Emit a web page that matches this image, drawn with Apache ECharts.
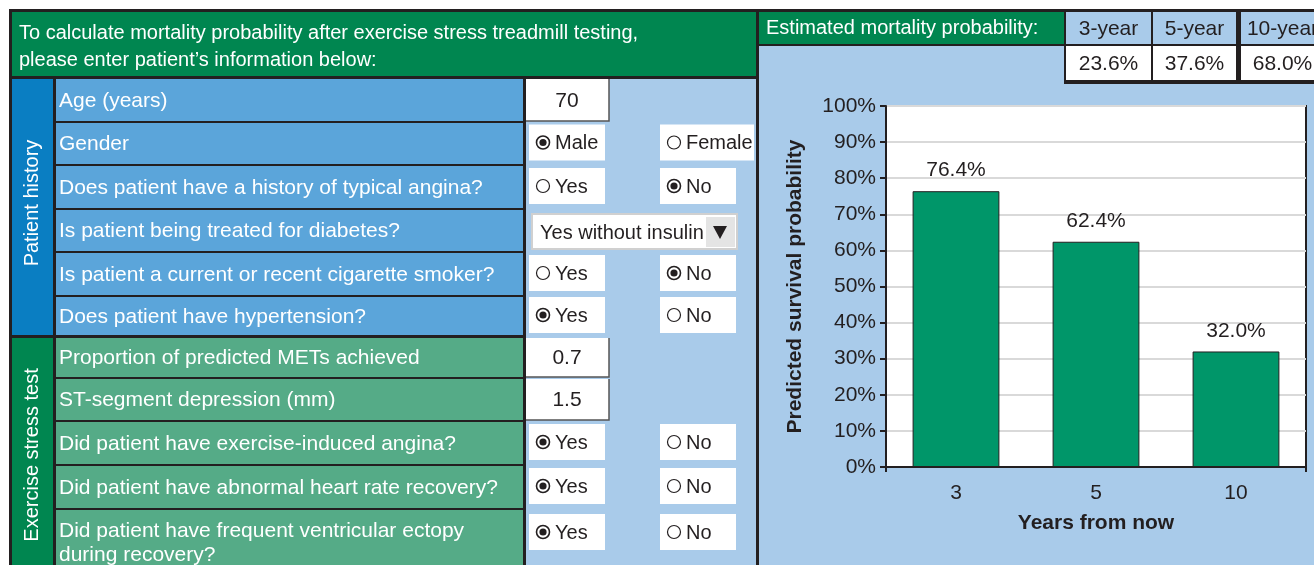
<!DOCTYPE html>
<html>
<head>
<meta charset="utf-8">
<script src="https://cdn.jsdelivr.net/npm/echarts/dist/echarts.min.js"></script>
<style>
html,body{margin:0;padding:0;background:#fff;}
#chart{width:1314px;height:565px;}
</style>
</head>
<body>
<div id="chart"></div>
<script>
// ---------- data ----------
const headerLines = ['To calculate mortality probability after exercise stress treadmill testing,', 'please enter patient\u2019s information below:'];
const sectionTitles = ['Patient history', 'Exercise stress test'];
const historyQuestions = ['Age (years)', 'Gender', 'Does patient have a history of typical angina?', 'Is patient being treated for diabetes?', 'Is patient a current or recent cigarette smoker?', 'Does patient have hypertension?'];
const exerciseQuestions = ['Proportion of predicted METs achieved', 'ST-segment depression (mm)', 'Did patient have exercise-induced angina?', 'Did patient have abnormal heart rate recovery?', 'Did patient have frequent ventricular ectopy\nduring recovery?'];
const answerKinds = ['input', 'radio', 'radio', 'select', 'radio', 'radio', 'input', 'input', 'radio', 'radio', 'radio'];
const answerOptions = [['70'], ['Male', 'Female'], ['Yes', 'No'], ['Yes without insulin'], ['Yes', 'No'], ['Yes', 'No'], ['0.7'], ['1.5'], ['Yes', 'No'], ['Yes', 'No'], ['Yes', 'No']];
const answerSelected = [0, 0, 1, 0, 1, 0, 0, 0, 0, 0, 0];
const resultTitle = 'Estimated mortality probability:';
const periodLabels = ['3-year', '5-year', '10-year'];
const mortality = [23.6, 37.6, 68.0];
const years = ['3', '5', '10'];
const survival = [76.4, 62.4, 32.0];
const yAxisTitle = 'Predicted survival probability';
const xAxisTitle = 'Years from now';

// ---------- styling / layout ----------
const F = "'Liberation Sans', Arial, sans-serif";
const DARK = '#231f20';
const C = {
  headGreen: '#008650', sideBlue: '#0a7ec2', rowBlue: '#5ba5da',
  sideGreen: '#008650', rowGreen: '#55ab87', light: '#a9cbea', bar: '#009669'
};
const FS = 21;
const rowEdges = [78, 122, 165, 209, 252, 296, 336, 378, 421, 465, 509, 567];

const g = [];
function rect(x, y, w, h, fill, z, extra) {
  g.push(Object.assign({ type: 'rect', silent: true, z: z == null ? -10 : z, shape: { x, y, width: w, height: h }, style: { fill } }, extra || {}));
}
function text(x, y, str, opts, rot) {
  const el = { type: 'text', silent: true, z: 20, x, y,
    style: Object.assign({ text: str, fill: '#fff', fontSize: FS, fontFamily: F, align: 'left', verticalAlign: 'middle' }, opts || {}) };
  if (rot) el.rotation = rot;
  g.push(el);
}

// dark frame
rect(9, 9, 1305, 560, DARK, -20);
// left header
rect(12, 12, 744, 64, C.headGreen);
text(19, 33, headerLines[0], { fontSize: 20 });
text(19, 60, headerLines[1], { fontSize: 20 });
// side columns
rect(12, 79, 41, 256, C.sideBlue);
rect(12, 338, 41, 230, C.sideGreen);
text(32, 203, sectionTitles[0], { align: 'center', fontSize: 20 }, Math.PI / 2);
text(32, 455, sectionTitles[1], { align: 'center', fontSize: 20 }, Math.PI / 2);
// light blue answer area
rect(526, 79, 230, 490, C.light);

const questions = historyQuestions.concat(exerciseQuestions);
questions.forEach((q, i) => {
  let top = rowEdges[i] + 1, bot = rowEdges[i + 1] - 1;
  if (i === 0) top = 79;
  if (i === 5) bot = 335;
  if (i === 6) top = 338;
  const fill = i < historyQuestions.length ? C.rowBlue : C.rowGreen;
  rect(56, top, 467, bot - top, fill);
  const multi = q.indexOf('\n') >= 0;
  const cy = multi ? top + 23 : (top + bot) / 2;
  if (multi) {
    text(59, top + 9, q, { verticalAlign: 'top', lineHeight: 24 });
  } else {
    text(59, cy + 1, q);
  }
  const kind = answerKinds[i];
  const opts = answerOptions[i];
  if (kind === 'input') {
    rect(526, top, 83, bot - top, '#fff', 5);
    g.push({ type: 'polyline', silent: true, z: 6, shape: { points: [[609, top], [609, bot], [526, bot]] }, style: { stroke: '#555', lineWidth: 1.5, fill: null } });
    text(567, cy + 1, opts[0], { fill: DARK, align: 'center' });
  } else if (kind === 'select') {
    rect(532, 214, 205, 35, '#fff', 5, { style: { fill: '#fff', stroke: '#d0d0d0', lineWidth: 2 } });
    rect(706, 217, 29, 30, '#e4e4e4', 6);
    g.push({ type: 'polygon', silent: true, z: 7, shape: { points: [[713, 226], [727, 226], [720, 239]] }, style: { fill: DARK } });
    text(540, 233, opts[0], { fill: DARK, fontSize: 20 });
  } else {
    const bx = [529, 660];
    const byc = cy - 1;
    opts.forEach((o, k) => {
      const w = o.length > 4 ? 94 : 76;
      rect(bx[k], byc - 18, w, 36, '#fff', 5);
      const cx = bx[k] + 14;
      g.push({ type: 'circle', silent: true, z: 7, shape: { cx, cy: byc, r: 6.5 }, style: { fill: '#fff', stroke: DARK, lineWidth: answerSelected[i] === k ? 1.6 : 1.2 } });
      if (answerSelected[i] === k) {
        g.push({ type: 'circle', silent: true, z: 8, shape: { cx, cy: byc, r: 3.6 }, style: { fill: DARK } });
      }
      text(bx[k] + 26, byc + 1, o, { fill: DARK, fontSize: 20 });
    });
  }
});

// right panel
rect(759, 12, 305, 32, C.headGreen);
text(766, 28, resultTitle, { fontSize: 20 });
rect(759, 46, 560, 523, C.light);
const colX = [1066, 1153, 1241], colW = [85, 83, 83];
periodLabels.forEach((p, k) => {
  rect(colX[k], 12, colW[k], 32, C.light, -5);
  text(colX[k] + colW[k] / 2, 29, p, { fill: DARK, align: 'center' });
});
rect(1064, 44, 260, 40, DARK, -6);
mortality.forEach((m, k) => {
  rect(colX[k], 46, colW[k], 34, '#fff', -5);
  text(colX[k] + colW[k] / 2, 64, m.toFixed(1) + '%', { fill: DARK, align: 'center' });
});

const chart = echarts.init(document.getElementById('chart'), null, { renderer: 'canvas' });
chart.setOption({
  animation: false,
  backgroundColor: '#fff',
  textStyle: { fontFamily: F },
  graphic: { elements: g },
  grid: { left: 886, top: 106, right: 8, bottom: 98, show: true, backgroundColor: '#fff', borderColor: DARK, borderWidth: 2 },
  xAxis: {
    type: 'category', data: years,
    axisLine: { lineStyle: { color: DARK, width: 2 } },
    axisTick: { show: true, interval: (i) => i === 0, length: 5, lineStyle: { color: DARK, width: 2 } },
    axisLabel: { fontSize: FS, color: DARK, margin: 16, fontFamily: F },
    name: xAxisTitle, nameLocation: 'middle', nameGap: 46,
    nameTextStyle: { fontSize: FS, fontWeight: 'bold', color: DARK, fontFamily: F }
  },
  yAxis: {
    type: 'value', min: 0, max: 100, interval: 10,
    axisLine: { show: true, lineStyle: { color: DARK, width: 2 } },
    axisTick: { show: true, length: 6, lineStyle: { color: DARK, width: 2 } },
    axisLabel: { formatter: '{value}%', fontSize: FS, color: DARK, margin: 10, fontFamily: F },
    splitLine: { lineStyle: { color: '#d9d9d9', width: 2 } },
    name: yAxisTitle, nameLocation: 'middle', nameGap: 80, nameRotate: 90,
    nameTextStyle: { fontSize: FS, fontWeight: 'bold', color: DARK, fontFamily: F }
  },
  series: [{
    type: 'bar', data: survival, barWidth: '62%',
    itemStyle: { color: C.bar, borderColor: DARK, borderWidth: 1 },
    label: { show: true, position: 'top', distance: 10, formatter: (p) => p.value.toFixed(1) + '%', fontSize: FS, color: DARK, fontFamily: F }
  }]
});
</script>
</body>
</html>
